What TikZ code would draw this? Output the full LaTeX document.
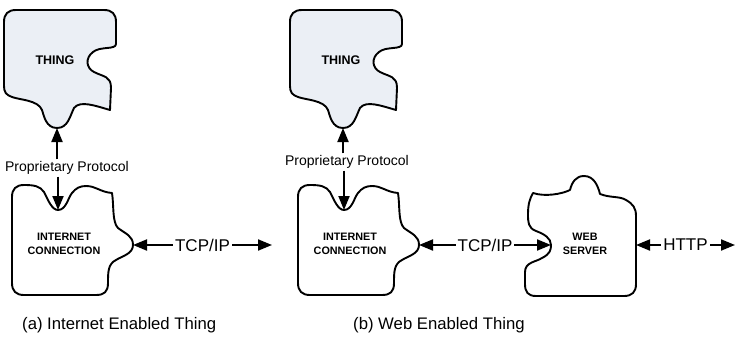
\documentclass[tikz,border=0pt]{standalone}
\usepackage{fontspec}
\setmainfont{Liberation Sans}
\usetikzlibrary{arrows.meta}
\definecolor{thingfill}{RGB}{235,239,245}
\tikzset{
  piece/.style={draw=black, line width=1.9pt, line join=round},
  thingpiece/.style={piece, fill=thingfill},
  plainpiece/.style={piece, fill=white},
  bothways/.style={line width=1.9pt, {Triangle[length=14pt,width=11pt]}-{Triangle[length=14pt,width=11pt]}},
  oneway/.style={line width=1.9pt, -{Triangle[length=14pt,width=11pt]}},
  caps/.style={font=\fontsize{10.8}{14}\selectfont\bfseries, align=center, inner sep=0pt},
  thingcaps/.style={font=\fontsize{12.5}{14}\selectfont\bfseries, inner sep=0pt},
  proto/.style={font=\fontsize{14}{16}\selectfont, inner sep=2pt},
  netlabel/.style={font=\fontsize{17}{19}\selectfont, fill=white, inner xsep=2pt, inner ysep=1pt},
  caption/.style={font=\fontsize{16.7}{19}\selectfont, anchor=west, inner sep=0pt},
  % puzzle piece for the device
  thingshape/.pic={
    \draw[thingpiece] (4,22) .. controls (4,14) and (8,10) .. (16,10) -- (104,10)
      .. controls (112,10) and (116,14) .. (116,22) -- (116,44)
      .. controls (116,50) and (100,46) .. (93,52)
      .. controls (85,58) and (86,68) .. (94,72)
      .. controls (104,77) and (111,76) .. (111,88) -- (110,110)
      .. controls (96,106) and (80,100) .. (74,108)
      .. controls (70,116) and (68,128) .. (57,128)
      .. controls (46,128) and (44,116) .. (42,110)
      .. controls (38,100) and (20,100) .. (12,97)
      .. controls (6,95) and (4,92) .. (4,86) -- cycle;
    \coordinate (-tab) at (57,128);
    \node[thingcaps] (-text) at (55,60) {THING};
  },
  % puzzle piece for the internet connection
  netshape/.pic={
    \draw[plainpiece] (12,197) .. controls (12,189) and (16,185) .. (24,185)
      .. controls (34,185) and (40,186) .. (44,192)
      .. controls (48,200) and (52,210) .. (58,210)
      .. controls (66,210) and (68,198) .. (72,193)
      .. controls (76,188) and (80,186) .. (86,186)
      .. controls (96,186) and (100,192) .. (112,193)
      .. controls (114,205) and (112,222) .. (118,228)
      .. controls (126,234) and (133,236) .. (133,245)
      .. controls (133,254) and (122,256) .. (116,260)
      .. controls (108,264) and (108,272) .. (108,283)
      .. controls (108,292) and (104,295) .. (96,295) -- (24,295)
      .. controls (16,295) and (12,291) .. (12,283) -- cycle;
    \coordinate (-notch) at (58,210);
    \coordinate (-port) at (133,245);
    \node[caps] (-text) at (64,244) {INTERNET\\CONNECTION};
  },
}
\begin{document}
\begin{tikzpicture}[x=1pt, y=-1pt]
  \useasboundingbox (0,0) rectangle (736,337);

  % (a) internet enabled thing
  \pic (ta) at (0,0) {thingshape};
  \pic (na) at (0,0) {netshape};
  \node[proto] (pa) at (67,168) {Proprietary Protocol};
  \draw[oneway] (ta-tab |- pa.north) -- (ta-tab);
  \draw[oneway] (na-notch |- pa.south) -- (na-notch);
  \coordinate (tcpa) at (272,245);
  \draw[bothways] (na-port) -- node[netlabel] (la) {TCP/IP} (tcpa);

  % (b) web enabled thing
  \pic (tb) at (286,0) {thingshape};
  \pic (nb) at (286,0) {netshape};
  \node[proto] (pb) at (347,162) {Proprietary Protocol};
  \draw[oneway] (tb-tab |- pb.north) -- (tb-tab);
  \draw[oneway] (nb-notch |- pb.south) -- (nb-notch);

  % web server piece
  \draw[plainpiece] (533,193) .. controls (545,197) and (562,194) .. (570,190)
    .. controls (572,182) and (576,176) .. (584,176)
    .. controls (594,176) and (598,186) .. (600,194)
    .. controls (610,198) and (620,196) .. (626,200)
    .. controls (633,204) and (636,208) .. (636,216) -- (636,284)
    .. controls (636,292) and (632,296) .. (624,296) -- (536,296)
    .. controls (528,296) and (525,292) .. (525,284) -- (525,272)
    .. controls (525,262) and (536,262) .. (542,258)
    .. controls (550,254) and (551,250) .. (551,245)
    .. controls (551,238) and (544,234) .. (536,231)
    .. controls (528,228) and (528,222) .. (528,214)
    .. controls (528,204) and (530,198) .. (533,193) -- cycle;
  \coordinate (wsin) at (551,245);
  \coordinate (wsout) at (636,245);
  \node[caps] (ws) at (585,244) {WEB\\SERVER};
  \draw[bothways] (nb-port) -- node[netlabel] (lb) {TCP/IP} (wsin);
  \coordinate (httpend) at (735,245);
  \draw[bothways] (wsout) -- node[netlabel] (lh) {HTTP} (httpend);

  % captions
  \node[caption] (capa) at (22,325) {(a) Internet Enabled Thing};
  \node[caption] (capb) at (353,325) {(b) Web Enabled Thing};
\end{tikzpicture}
\end{document}
